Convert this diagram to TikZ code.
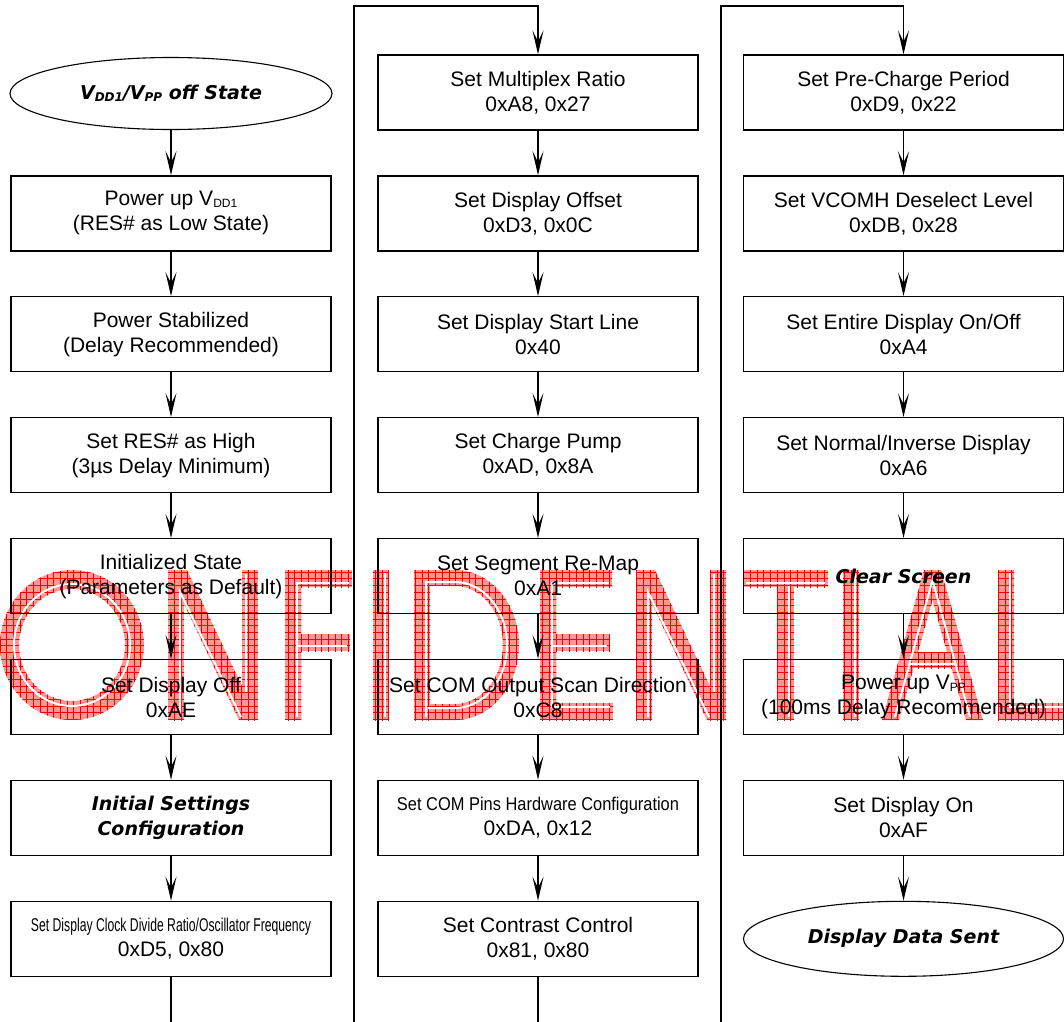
\documentclass[tikz,border=0pt]{standalone}
\usepackage{fontspec}
\usepackage{graphicx}
\setmainfont{Liberation Sans}
\newfontfamily\bifont{DejaVu Sans Bold Oblique}
\usetikzlibrary{arrows.meta,shapes.geometric,patterns,calc}
\pgfdeclarepatternformonly{wmgrid}{\pgfqpoint{-1pt}{-1pt}}{\pgfqpoint{7.7pt}{7.7pt}}{\pgfqpoint{6.7pt}{6.7pt}}{%
  \pgfsetlinewidth{0.8pt}%
  \pgfpathmoveto{\pgfqpoint{0pt}{-0.5pt}}\pgfpathlineto{\pgfqpoint{0pt}{7.2pt}}%
  \pgfpathmoveto{\pgfqpoint{-0.5pt}{0pt}}\pgfpathlineto{\pgfqpoint{7.2pt}{0pt}}%
  \pgfusepath{stroke}}
\definecolor{wmpink}{RGB}{255,150,150}
\definecolor{wmred}{RGB}{245,0,0}
\newcommand\sbs[1]{\raisebox{-2pt}{\fontsize{12}{12}\selectfont #1}}
\newcommand\narrowline[2]{\resizebox{#1pt}{\height}{\fontsize{18.5}{20}\selectfont #2}}
\tikzset{
  wm/.style={fill=wmpink, postaction={pattern=wmgrid, pattern color=wmred}},
  wmeo/.style={fill=wmpink, even odd rule, postaction={pattern=wmgrid, pattern color=wmred, even odd rule}},
  wmline/.style={draw=white, line width=2pt, line join=miter},
  stepbox/.style={draw, line width=1.3pt, minimum width=320pt, minimum height=75pt, inner sep=0pt, align=center, font=\fontsize{21}{25}\selectfont},
  bistep/.style={stepbox, font=\bifont\fontsize{19}{25}\selectfont},
  endell/.style={ellipse, draw, line width=1.1pt, minimum width=322pt, minimum height=72pt, inner sep=0pt, align=center, font=\bifont\fontsize{19}{22}\selectfont},
  flow/.style={line width=1.3pt, -{Stealth[length=24pt,width=11pt,inset=11pt]}},
  link/.style={line width=1.3pt},
}
\begin{document}
\begin{tikzpicture}[x=1pt,y=-1pt]
\useasboundingbox (0,0) rectangle (1064,1021);
\clip (0,0) rectangle (1064,1021);

% ---------------- watermark "ONFIDENTIAL" ----------------
% O
\fill[wmeo] (72,645) ellipse [x radius=72, y radius=75] (72,645) ellipse [x radius=53, y radius=56];
\draw[wmline] (72,645) ellipse [x radius=58, y radius=61];
% N
\fill[wm] (168,570) rectangle (184,720);
\fill[wm] (242,570) rectangle (258,720);
\fill[wm] (168,570) -- (187,570) -- (258,720) -- (239,720) -- cycle;
\draw[wmline] (180,717) -- (180,592) -- (241,717);
\draw[wmline] (246,574) -- (246,692);
% F
\fill[wm] (285,570) rectangle (301,720);
\fill[wm] (285,570) rectangle (352,587);
\fill[wm] (285,634) rectangle (350,651);
\draw[wmline] (297,717) -- (297,583) -- (349,583);
\draw[wmline] (297,646) -- (347,646);
% I
\fill[wm] (373,570) rectangle (389,720);
\draw[wmline] (385,573) -- (385,717);
% D
\fill[wm] (414,570) rectangle (430,720);
\fill[wm] (414,570) -- (455,570) arc[start angle=-90,end angle=90,x radius=64,y radius=75] -- (414,720) -- (414,704) -- (455,704) arc[start angle=90,end angle=-90,x radius=48,y radius=59] -- (414,586) -- cycle;
\draw[wmline] (426,717) -- (426,582) -- (455,582) arc[start angle=-90,end angle=90,x radius=52,y radius=63] -- (428,708);
% E
\fill[wm] (540,570) rectangle (556,720);
\fill[wm] (540,570) rectangle (612,587);
\fill[wm] (540,634) rectangle (610,651);
\fill[wm] (540,703) rectangle (613,720);
\draw[wmline] (609,583) -- (552,583) -- (552,707) -- (610,707);
\draw[wmline] (552,646) -- (607,646);
% N
\fill[wm] (636,570) rectangle (652,720);
\fill[wm] (710,570) rectangle (726,720);
\fill[wm] (636,570) -- (655,570) -- (726,720) -- (707,720) -- cycle;
\draw[wmline] (648,717) -- (648,592) -- (709,717);
\draw[wmline] (714,574) -- (714,692);
% T
\fill[wm] (743,570) rectangle (828,587);
\fill[wm] (777,570) rectangle (794,720);
\draw[wmline] (746,583) -- (825,583);
\draw[wmline] (789,586) -- (789,717);
% I
\fill[wm] (843,570) rectangle (859,720);
\draw[wmline] (855,573) -- (855,717);
% A
\fill[wm] (882,720) -- (924,570) -- (941,570) -- (899,720) -- cycle;
\fill[wm] (924,570) -- (941,570) -- (983,720) -- (966,720) -- cycle;
\fill[wm] (905,652) rectangle (960,668);
\draw[wmline] (895,717) -- (932.5,580) -- (970,717);
\draw[wmline] (910,664) -- (955,664);
% L
\fill[wm] (998,570) rectangle (1014,720);
\fill[wm] (998,703) rectangle (1080,720);
\draw[wmline] (1010,573) -- (1010,707) -- (1075,707);

% ---------------- column 1 ----------------
\node[endell] (a1) at (171,93.5) {V\sbs{DD1}/V\sbs{PP} off State};
\node[stepbox] (a2) at (171,213.4) {Power up V\sbs{DD1}\\(RES\# as Low State)};
\node[stepbox] (a3) at (171,334.3) {Power Stabilized\\(Delay Recommended)};
\node[stepbox] (a4) at (171,455.2) {Set RES\# as High\\(3µs Delay Minimum)};
\node[stepbox] (a5) at (171,576.1) {Initialized State\\(Parameters as Default)};
\node[stepbox] (a6) at (171,697) {Set Display Off\\0xAE};
\node[bistep] (a7) at (171,817.9) {Initial Settings\\Configuration};
\node[stepbox] (a8) at (171,938.8) {\narrowline{280}{Set Display Clock Divide Ratio/Oscillator Frequency}\\0xD5, 0x80};

% ---------------- column 2 ----------------
\node[stepbox] (b1) at (538,92.5) {Set Multiplex Ratio\\0xA8, 0x27};
\node[stepbox] (b2) at (538,213.4) {Set Display Offset\\0xD3, 0x0C};
\node[stepbox] (b3) at (538,334.3) {Set Display Start Line\\0x40};
\node[stepbox] (b4) at (538,455.2) {Set Charge Pump\\0xAD, 0x8A};
\node[stepbox] (b5) at (538,576.1) {Set Segment Re-Map\\0xA1};
\node[stepbox] (b6) at (538,697) {Set COM Output Scan Direction\\0xC8};
\node[stepbox] (b7) at (538,817.9) {\narrowline{282}{Set COM Pins Hardware Configuration}\\0xDA, 0x12};
\node[stepbox] (b8) at (538,938.8) {Set Contrast Control\\0x81, 0x80};

% ---------------- column 3 ----------------
\node[stepbox] (c1) at (903.5,92.5) {Set Pre-Charge Period\\0xD9, 0x22};
\node[stepbox] (c2) at (903.5,213.4) {Set VCOMH Deselect Level\\0xDB, 0x28};
\node[stepbox] (c3) at (903.5,334.3) {Set Entire Display On/Off\\0xA4};
\node[stepbox] (c4) at (903.5,455.2) {Set Normal/Inverse Display\\0xA6};
\node[bistep] (c5) at (903.5,576.1) {Clear Screen};
\node[stepbox] (c6) at (903.5,697) {Power up V\sbs{PP}\\(100ms Delay Recommended)};
\node[stepbox] (c7) at (903.5,817.9) {Set Display On\\0xAF};
\node[endell, minimum width=320pt, minimum height=75pt] (c8) at (903.5,938.8) {Display Data Sent};

% ---------------- connectors ----------------
\foreach \p/\q in {a1/a2,a2/a3,a3/a4,a4/a5,a5/a6,a6/a7,a7/a8,
                   b1/b2,b2/b3,b3/b4,b4/b5,b5/b6,b6/b7,b7/b8,
                   c1/c2,c2/c3,c3/c4,c4/c5,c5/c6,c6/c7,c7/c8}
  \draw[flow] (\p.south) -- (\q.north);

\coordinate (a8end) at (171,1030);
\coordinate (l1b) at (354,1030);
\coordinate (l1t) at (354,6);
\coordinate (b8end) at (538,1030);
\coordinate (l2b) at (721,1030);
\coordinate (l2t) at (721,6);
\draw[link] (a8.south) -- (a8end);
\draw[flow] (l1b) -- (l1t) -| (b1.north);
\draw[link] (b8.south) -- (b8end);
\draw[flow] (l2b) -- (l2t) -| (c1.north);
\end{tikzpicture}
\end{document}
